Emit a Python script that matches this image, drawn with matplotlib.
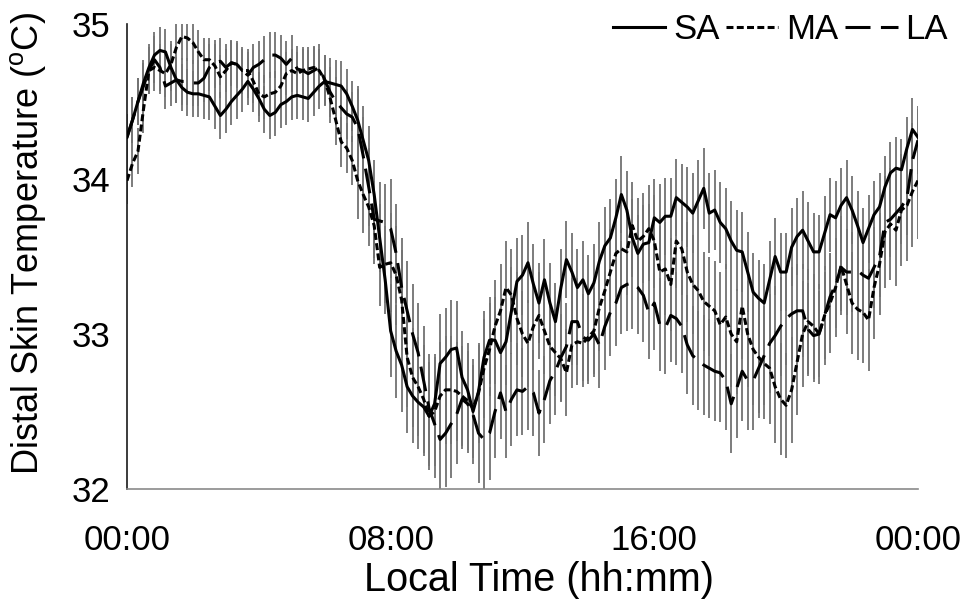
import numpy as np
import matplotlib
matplotlib.use("Agg")
import matplotlib.pyplot as plt

plt.rcParams['font.family'] = ['Liberation Sans', 'DejaVu Sans']
plt.rcParams['lines.scale_dashes'] = False

# time in minutes, every 10 minutes across 24 h
minutes = list(range(0, 1441, 10))

sa = [34.27, 34.38, 34.50, 34.62, 34.72, 34.80, 34.83, 34.82, 34.72, 34.64,
      34.59, 34.56, 34.55, 34.55, 34.54, 34.53, 34.47, 34.41, 34.45, 34.50,
      34.54, 34.58, 34.63, 34.58, 34.52, 34.45, 34.41, 34.43, 34.48, 34.50,
      34.53, 34.54, 34.53, 34.52, 34.56, 34.60, 34.63, 34.62, 34.61, 34.60,
      34.55, 34.47, 34.38, 34.25, 34.12, 33.90, 33.62, 33.35, 33.02, 32.89,
      32.80, 32.66, 32.60, 32.56, 32.53, 32.47, 32.55, 32.81, 32.85, 32.90,
      32.91, 32.72, 32.64, 32.50, 32.63, 32.85, 32.96, 32.96, 32.88, 32.95,
      33.15, 33.34, 33.38, 33.46, 33.32, 33.20, 33.35, 33.20, 33.08, 33.30,
      33.48, 33.40, 33.30, 33.35, 33.26, 33.33, 33.47, 33.57, 33.62, 33.75,
      33.90, 33.80, 33.62, 33.52, 33.58, 33.59, 33.75, 33.72, 33.76, 33.76,
      33.88, 33.85, 33.82, 33.78, 33.86, 33.94, 33.78, 33.80, 33.72, 33.68,
      33.60, 33.54, 33.53, 33.40, 33.27, 33.23, 33.20, 33.35, 33.50, 33.40,
      33.40, 33.56, 33.63, 33.67, 33.60, 33.53, 33.53, 33.65, 33.77, 33.75,
      33.83, 33.88, 33.80, 33.70, 33.59, 33.68, 33.77, 33.82, 33.95, 34.04,
      34.07, 34.06, 34.20, 34.32, 34.27]

ma = [33.99, 34.10, 34.18, 34.45, 34.70, 34.72, 34.70, 34.68, 34.74, 34.85,
      34.92, 34.91, 34.88, 34.82, 34.77, 34.77, 34.73, 34.66, 34.70, 34.75,
      34.74, 34.70, 34.70, 34.63, 34.55, 34.53, 34.55, 34.56, 34.60, 34.68,
      34.70, 34.68, 34.70, 34.71, 34.72, 34.70, 34.64, 34.52, 34.38, 34.24,
      34.20, 34.12, 33.99, 33.90, 33.82, 33.70, 33.43, 33.45, 33.46, 33.38,
      33.22, 32.85, 32.72, 32.66, 32.58, 32.47, 32.50, 32.60, 32.64, 32.64,
      32.63, 32.60, 32.57, 32.52, 32.62, 32.78, 32.90, 33.05, 33.15, 33.30,
      33.25, 33.10, 33.00, 32.94, 33.05, 33.12, 33.02, 32.92, 32.88, 32.84,
      32.75, 32.93, 32.95, 32.94, 32.98, 33.02, 33.17, 33.28, 33.40, 33.52,
      33.55, 33.53, 33.70, 33.60, 33.63, 33.68, 33.60, 33.40, 33.42, 33.32,
      33.60, 33.55, 33.40, 33.32, 33.28, 33.21, 33.18, 33.15, 33.06, 33.11,
      33.00, 32.95, 33.18, 33.00, 32.90, 32.85, 32.81, 32.78, 32.66, 32.58,
      32.54, 32.64, 32.82, 33.00, 33.08, 33.05, 33.00, 33.12, 33.20, 33.30,
      33.44, 33.32, 33.20, 33.16, 33.14, 33.09, 33.30, 33.45, 33.66, 33.71,
      33.67, 33.80, 33.83, 33.92, 33.99]

la = [34.27, 34.38, 34.50, 34.60, 34.70, 34.77, 34.72, 34.60, 34.62, 34.64,
      34.63, 34.63, 34.62, 34.62, 34.65, 34.72, 34.75, 34.76, 34.72, 34.75,
      34.74, 34.70, 34.67, 34.72, 34.74, 34.77, 34.80, 34.80, 34.78, 34.74,
      34.78, 34.71, 34.70, 34.68, 34.70, 34.72, 34.64, 34.56, 34.50, 34.46,
      34.42, 34.40, 34.33, 34.15, 33.95, 33.74, 33.73, 33.72, 33.68, 33.52,
      33.30, 33.15, 33.00, 32.88, 32.70, 32.52, 32.42, 32.32, 32.36, 32.42,
      32.48, 32.58, 32.55, 32.48, 32.36, 32.32, 32.36, 32.50, 32.62, 32.50,
      32.58, 32.64, 32.63, 32.66, 32.62, 32.49, 32.58, 32.70, 32.76, 32.85,
      32.92, 33.08, 33.08, 32.98, 32.96, 33.00, 32.93, 33.05, 33.14, 33.20,
      33.30, 33.32, 33.33, 33.30, 33.25, 33.14, 33.20, 33.06, 33.04, 33.12,
      33.10, 33.05, 32.93, 32.86, 32.83, 32.80, 32.78, 32.76, 32.75, 32.70,
      32.55, 32.65, 32.76, 32.70, 32.70, 32.78, 32.86, 32.94, 32.99, 33.05,
      33.10, 33.13, 33.15, 33.15, 33.03, 32.99, 33.00, 33.12, 33.24, 33.32,
      33.43, 33.40, 33.40, 33.41, 33.38, 33.36, 33.43, 33.50, 33.72, 33.74,
      33.78, 33.82, 33.88, 34.12, 34.25]

# error half-widths, one value per hour (00 .. 24)
sa_err_hourly = [0.15, 0.15, 0.15, 0.15, 0.15, 0.15, 0.16, 0.22, 0.30, 0.32,
                 0.30, 0.28, 0.26, 0.25, 0.25, 0.25, 0.25, 0.26, 0.26, 0.25,
                 0.25, 0.24, 0.22, 0.20, 0.18]
ma_err_hourly = [0.15, 0.15, 0.14, 0.14, 0.14, 0.14, 0.16, 0.25, 0.32, 0.35,
                 0.32, 0.30, 0.28, 0.28, 0.28, 0.28, 0.30, 0.32, 0.34, 0.36,
                 0.34, 0.32, 0.33, 0.36, 0.38]
la_err_hourly = [0.15, 0.15, 0.15, 0.15, 0.15, 0.15, 0.16, 0.25, 0.32, 0.35,
                 0.32, 0.30, 0.28, 0.28, 0.28, 0.30, 0.30, 0.32, 0.32, 0.32,
                 0.30, 0.28, 0.26, 0.24, 0.22]

xtick_hours = [0, 8, 16, 24]
xtick_labels = ["00:00", "08:00", "16:00", "00:00"]
yticks = [32, 33, 34, 35]

hours = np.array(minutes) / 60.0
hour_idx = np.array(minutes) // 60

fig = plt.figure(figsize=(9.68, 6.03), dpi=100)
ax = fig.add_axes([0.1312, 0.189, 0.8171, 0.7711])

series = [
    ("SA", sa, sa_err_hourly, '-'),
    ("MA", ma, ma_err_hourly, (0, (5.0, 2.4))),
    ("LA", la, la_err_hourly, (0, (18.0, 7.5))),
]

for name, vals, errs, ls in series:
    e = np.array(errs)[hour_idx]
    ax.errorbar(hours, vals, yerr=e, fmt='none', ecolor='#727272',
                elinewidth=1.3, capsize=0, zorder=1)

handles = []
for name, vals, errs, ls in series:
    h, = ax.plot(hours, vals, color='black', lw=2.2, linestyle=ls,
                 label=name, zorder=3, solid_joinstyle='round')
    handles.append(h)

ax.set_xlim(0, 24)
ax.set_ylim(32, 35)
ax.set_xticks(xtick_hours)
ax.set_xticklabels(xtick_labels)
ax.set_yticks(yticks)
ax.tick_params(axis='both', length=0, labelsize=25)
ax.tick_params(axis='x', pad=25)
ax.tick_params(axis='y', pad=12)

for s in ['top', 'right']:
    ax.spines[s].set_visible(False)
ax.spines['left'].set_color('#1a1a1a')
ax.spines['left'].set_linewidth(1.2)
ax.spines['bottom'].set_color('#8a8a8a')
ax.spines['bottom'].set_linewidth(1.2)

ax.set_xlabel("Local Time (hh:mm)", fontsize=28.5, va='center', ha='center')
ax.xaxis.set_label_coords(0.521, -0.196)
ax.set_ylabel(r"Distal Skin Temperature ($^{\mathregular{o}}$C)", fontsize=26,
              va='center', ha='center')
ax.yaxis.set_label_coords(-0.125, 0.527)

leg = ax.legend(handles=handles, loc='upper right', ncol=3, frameon=False,
                fontsize=25, handlelength=1.5, handletextpad=0.23,
                columnspacing=0.2, borderaxespad=0.0, borderpad=0.0,
                bbox_to_anchor=(1.038, 1.024))

fig.savefig("out.png", dpi=100)
